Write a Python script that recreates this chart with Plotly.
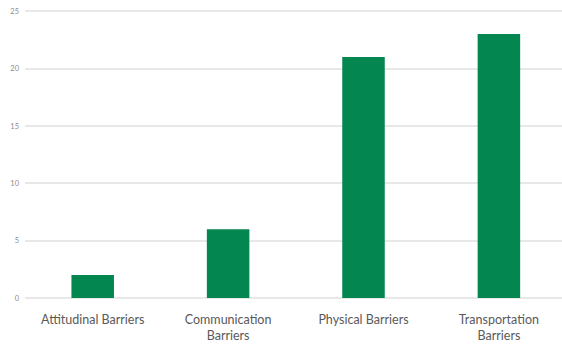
import plotly.graph_objects as go

categories = ["Attitudinal Barriers", "Communication<br>Barriers", "Physical Barriers", "Transportation<br>Barriers"]
counts = [2, 6, 21, 23]
y_ticks = [0, 5, 10, 15, 20, 25]

fig = go.Figure(
    go.Bar(
        x=categories,
        y=counts,
        marker=dict(color="#03864f", line=dict(width=0)),
        width=0.314,
    )
)

fig.update_layout(
    width=562,
    height=344,
    margin=dict(l=25, r=0, t=10, b=46),
    paper_bgcolor="white",
    plot_bgcolor="white",
    showlegend=False,
    font=dict(family="Lato, Open Sans, sans-serif", color="#595959"),
)

fig.update_xaxes(
    range=[-0.5, 3.466],
    showgrid=False,
    showline=False,
    zeroline=False,
    tickfont=dict(size=12.5, color="#595959"),
    ticklabelstandoff=12,
)

fig.update_yaxes(
    range=[0, 25.1],
    tickvals=y_ticks,
    showgrid=True,
    gridcolor="#e8e8e8",
    gridwidth=1.5,
    zeroline=True,
    zerolinecolor="#e8e8e8",
    zerolinewidth=1.5,
    showline=False,
    tickfont=dict(size=7.5, color="#8c8c8c"),
    ticklabelstandoff=5,
)

fig.write_html("out.html")
